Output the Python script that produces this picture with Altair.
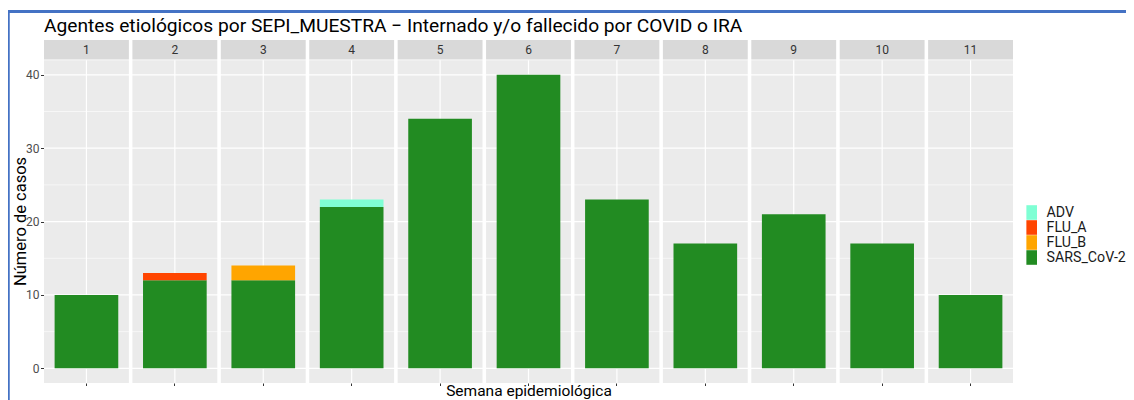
import altair as alt
import pandas as pd

# ---- data ----
weeks = [1, 2, 3, 4, 5, 6, 7, 8, 9, 10, 11]
sars_cov2 = [10, 12, 12, 22, 34, 40, 23, 17, 21, 17, 10]
adv = [0, 0, 0, 1, 0, 0, 0, 0, 0, 0, 0]
flu_a = [0, 1, 0, 0, 0, 0, 0, 0, 0, 0, 0]
flu_b = [0, 0, 2, 0, 0, 0, 0, 0, 0, 0, 0]

agents = ["ADV", "FLU_A", "FLU_B", "SARS_CoV-2"]
agent_colors = ["#7FFFD4", "#FF4500", "#FFA500", "#228B22"]
stack_rank = {"SARS_CoV-2": 0, "FLU_B": 1, "FLU_A": 2, "ADV": 3}

major_ticks = [0, 10, 20, 30, 40]
minor_ticks = [5, 15, 25, 35]

title_text = "Agentes etiológicos por SEPI_MUESTRA − Internado y/o fallecido por COVID o IRA"
x_title = "Semana epidemiológica"
y_title = "Número de casos"

# ---- tables ----
rows = []
for name, series in zip(["SARS_CoV-2", "ADV", "FLU_A", "FLU_B"], [sars_cov2, adv, flu_a, flu_b]):
    for w, v in zip(weeks, series):
        if v > 0:
            rows.append({"week": w, "agent": name, "casos": v, "ord": stack_rank[name]})
df = pd.DataFrame(rows)
panels = pd.DataFrame({"week": weeks})
grid_major = pd.DataFrame({"v": major_ticks})
grid_minor = pd.DataFrame({"v": minor_ticks})
one = pd.DataFrame({"k": [0]})

FONT = "Roboto"
xscale = alt.Scale(paddingInner=0.04, paddingOuter=0)
yscale = alt.Scale(domain=[-2, 44.75], nice=False, zero=False)

x_axis = alt.Axis(labels=False, ticks=True, tickSize=2.5, tickColor="#333333", tickWidth=1,
                  domain=False, grid=False, title=x_title, titleFont=FONT, titleFontSize=15.5,
                  titleFontWeight="normal", titleColor="black", titleBaseline="alphabetic",
                  titleY=12)
y_axis = alt.Axis(values=major_ticks, domain=False, grid=False, tickSize=3.5, tickColor="#333333",
                  labelFont=FONT, labelFontSize=12, labelColor="#4D4D4D", labelPadding=1.5,
                  title=y_title, titleFont=FONT, titleFontSize=16.5, titleFontWeight="normal",
                  titleColor="black", titleBaseline="alphabetic", titleX=-19, titleY=181,
                  titleAngle=270)


def X():
    return alt.X("week:O", scale=xscale, axis=x_axis, title=x_title)


def YD(v):
    return alt.datum(v, scale=yscale, axis=y_axis, title=y_title)


background = alt.Chart(panels).mark_bar(color="#EBEBEB").encode(
    x=X(), y=YD(-2), y2=alt.datum(42),
)

strip_bg = alt.Chart(panels).mark_bar(color="#D9D9D9").encode(
    x=X(), y=YD(42.1), y2=alt.datum(44.75)
)
strip_txt = alt.Chart(panels).mark_text(font=FONT, fontSize=12, color="#333333", baseline="middle").encode(
    x=X(), y=YD(43.425), text="week:O"
)

minor_rules = alt.Chart(grid_minor).mark_rule(color="white", strokeWidth=0.6).encode(
    y=alt.Y("v:Q", scale=yscale, axis=y_axis, title=y_title)
)
major_rules = alt.Chart(grid_major).mark_rule(color="white", strokeWidth=1.2).encode(
    y=alt.Y("v:Q", scale=yscale, axis=y_axis, title=y_title)
)
v_rules = alt.Chart(panels).mark_rule(color="white", strokeWidth=1.2).encode(
    x=X(), y=YD(-2), y2=alt.datum(42)
)

bars = alt.Chart(df).mark_bar(width=alt.RelativeBandSize(0.75)).encode(
    x=X(),
    y=alt.Y("sum(casos):Q", scale=yscale, axis=y_axis, title=y_title, stack="zero"),
    color=alt.Color("agent:N", scale=alt.Scale(domain=agents, range=agent_colors),
                    legend=alt.Legend(title=None, orient="none", legendX=980.2, legendY=165,
                                      symbolType="M-0.73,-1H0.73V1H-0.73Z", symbolSize=213,
                                      symbolStrokeWidth=0, symbolOpacity=1, rowPadding=0,
                                      labelFont=FONT, labelFontSize=14.2, labelColor="#1A1A1A",
                                      labelOffset=7.4, padding=0, labelLimit=300)),
    order=alt.Order("ord:Q", sort="ascending"),
)

title = alt.Chart(one).mark_text(font=FONT, fontSize=19.2, color="black", align="left",
                                 baseline="alphabetic", text=title_text).encode(
    x=alt.value(0), y=alt.value(-8)
)

frame_top = alt.Chart(one).mark_rule(color="#4472C4", strokeWidth=3).encode(
    x=alt.value(-36), x2=alt.value(1100), y=alt.value(-28.5)
)
frame_left = alt.Chart(one).mark_rule(color="#4472C4", strokeWidth=2.5).encode(
    x=alt.value(-35.5), y=alt.value(-30), y2=alt.value(400)
)

chart = alt.layer(
    background, strip_bg, strip_txt, minor_rules, major_rules, v_rules, bars, title,
    frame_top, frame_left
).properties(
    width=969, height=343,
    autosize=alt.AutoSizeParams(type="none"),
    padding={"left": 36, "top": 32, "right": 113, "bottom": 17},
    background="white",
).configure_view(stroke=None)

chart.save("out.html", embed_options={"renderer": "svg", "actions": False})
